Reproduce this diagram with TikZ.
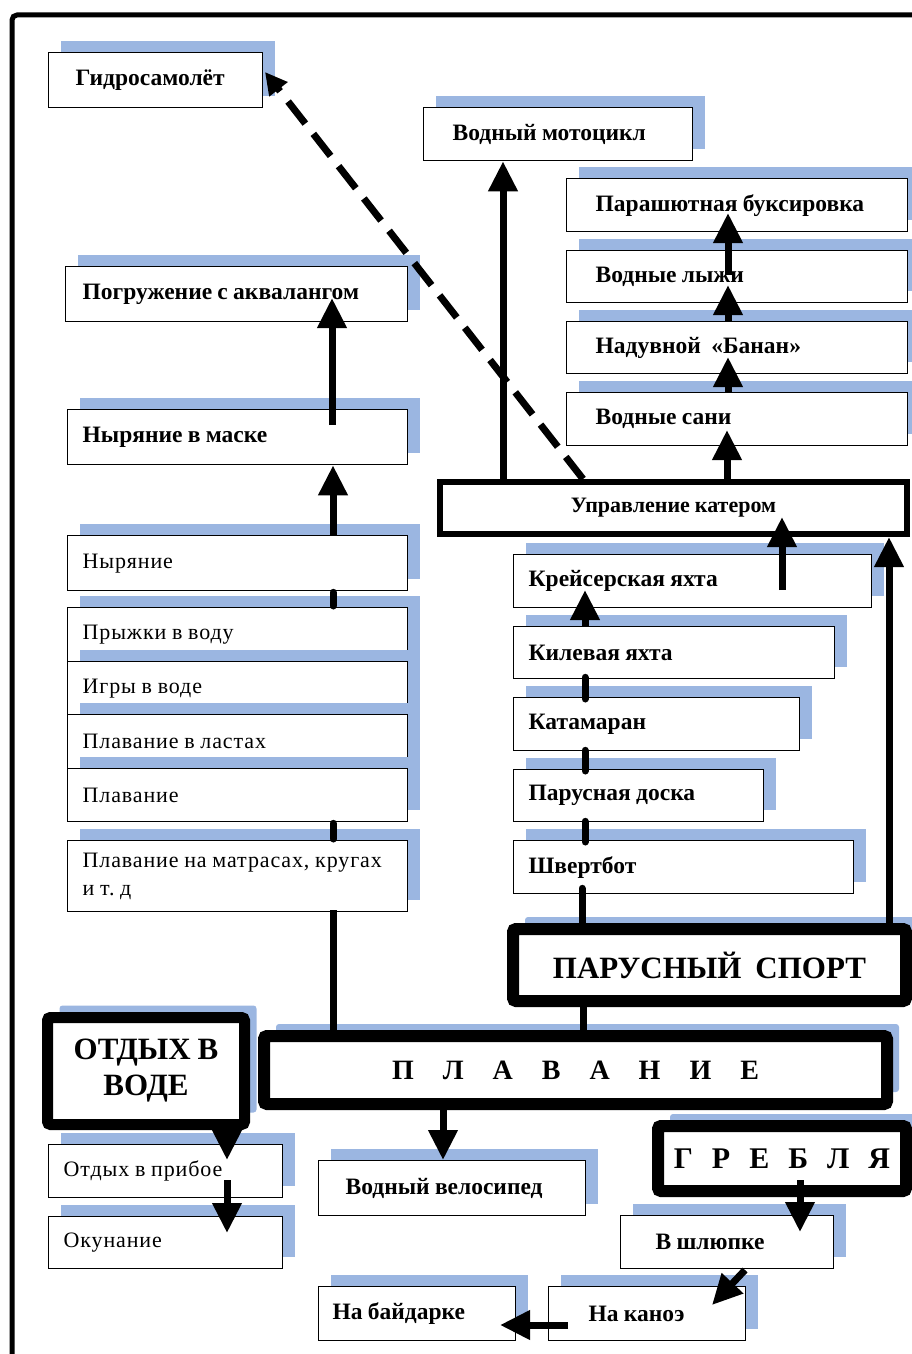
\documentclass[tikz,border=0pt]{standalone}
\usepackage{fontspec}
\setmainfont{Liberation Serif}[WordSpace=0.9]
\frenchspacing
\usetikzlibrary{arrows.meta,shadows}
\definecolor{shblue}{RGB}{155,182,225}
\newcommand\bsz{\bfseries\fontsize{23.5}{28}\selectfont}
\newcommand\rsz{\fontsize{22}{28}\selectfont\addfontfeatures{LetterSpace=4}}
\newcommand\gp[1]{\hspace{#1pt}}
% optional style, name, x1, y1, x2, y2, padding, text
\newcommand\tb[8][]{\node[sbox,#1,minimum width={#5pt-#3pt},minimum height={#6pt-#4pt},inner xsep=#7pt,text width={#5pt-#3pt-2*#7pt}] (#2) at (#3,#4) {#8};}
\begin{document}
\begin{tikzpicture}[x=1pt,y=-1pt,
  shd/.style={general shadow={fill=shblue, shadow xshift=12pt, shadow yshift=12pt}},
  sbox/.style={draw, line width=1.3pt, fill=white, shd, inner ysep=0pt, align=flush left, anchor=north west, font=\bsz},
  heavy/.style={draw, fill=white, rounded corners=3pt, shd, anchor=north west, align=center, inner sep=0pt},
  conn/.style={line width=7pt},
  arr/.style={line width=7pt, -{Triangle[length=30pt,width=28pt]}},
  bar/.style={line width=7pt, line cap=round}]
\useasboundingbox (0,0) rectangle (912,1354);
\clip (0,0) rectangle (912,1354);
% frame
\draw[line width=5pt, rounded corners=5pt] (12,1400) -- (12,15) -- (960,15);

% top boxes
\tb{gidro}{48}{52}{262}{107}{27}{Гидросамолёт}
\tb{moto}{423}{107}{692}{160}{29}{Водный мотоцикл}
\tb{parash}{566}{178}{907}{231}{29}{Парашютная буксировка}
\tb{lyzhi}{566}{250}{907}{302}{29}{Водные лыжи}
\tb{banan}{566}{321}{907}{373}{29}{Надувной\ \ «Банан»}
\tb{sani}{566}{392}{907}{445}{29}{Водные сани}
\tb{pogr}{65}{266}{407}{321}{17}{Погружение с аквалангом}
\tb{maska}{67}{409}{407}{464}{15}{Ныряние в маске}
\node[draw, line width=6pt, fill=white, anchor=north west, inner sep=0pt,
      minimum width=467pt, minimum height=52pt,
      font=\bfseries\fontsize{22}{26}\selectfont] (upr) at (437,479) {Управление катером};

% left column
\tb[font=\rsz]{nyr}{67}{535}{407}{590}{15}{Ныряние}
\tb[font=\rsz]{pryz}{67}{607}{407}{661}{15}{Прыжки в воду}
\tb[font=\rsz]{igry}{67}{661}{407}{714}{15}{Игры в воде}
\tb[font=\rsz]{last}{67}{714}{407}{768}{15}{Плавание в ластах}
\tb[font=\rsz]{plav}{67}{768}{407}{821}{15}{Плавание}
\tb[font=\rsz]{matr}{67}{840}{407}{911}{15}{\mbox{Плавание на матрасах, кругах}\\и т. д}

% sailing column
\tb{krei}{513}{554}{871}{607}{15}{Крейсерская яхта}
\tb{kil}{513}{626}{834}{678}{15}{Килевая яхта}
\tb{katam}{513}{697}{799}{750}{15}{Катамаран}
\tb{doska}{513}{769}{763}{821}{15}{Парусная доска}
\tb{shv}{513}{840}{853}{893}{15}{Швертбот}

% heavy boxes
\node[heavy, line width=12pt, minimum width=393pt, minimum height=72pt,
      font=\bfseries\fontsize{31}{36}\selectfont] (parus) at (507,923) {ПАРУСНЫЙ\ \ СПОРТ};
\node[heavy, line width=11pt, minimum width=197pt, minimum height=107pt,
      font=\bfseries\fontsize{31}{36}\selectfont] (otdyh) at (42,1012) {ОТДЫХ В\\ВОДЕ};
\node[heavy, line width=12pt, minimum width=623pt, minimum height=68pt,
      font=\bfseries\fontsize{28}{32}\selectfont] (plavanie) at (258,1030)
      {П\gp{29}Л\gp{29}А\gp{29}В\gp{29}А\gp{29}Н\gp{29}И\gp{29}Е};
\node[heavy, line width=12pt, minimum width=248pt, minimum height=65pt,
      font=\bfseries\fontsize{30}{34}\selectfont] (grebl) at (652,1120)
      {Г\gp{19}Р\gp{19}Е\gp{19}Б\gp{19}Л\gp{19}Я};

% bottom boxes
\tb[font=\rsz]{pribo}{48}{1144}{282}{1197}{15}{Отдых в прибое}
\tb[font=\rsz]{okun}{48}{1216}{282}{1268}{15}{Окунание}
\tb{velo}{318}{1160}{585}{1215}{27}{Водный велосипед}
\tb{shl}{620}{1215}{833}{1268}{35}{В шлюпке}
\tb{kan}{548}{1286}{745}{1340}{40}{На каноэ}
\tb{bai}{318}{1286}{515}{1340}{14}{На байдарке}

% ---------- connectors ----------
% left column
\draw[arr] ([shift={(266,0)}]nyr.north west) -- ([shift={(266,0)}]maska.south west);
\draw[arr] ([shift={(265,16)}]maska.north west) -- ([shift={(267,32)}]pogr.north west);
\draw[bar] ([shift={(266,1)}]nyr.south west) -- ([shift={(266,-1)}]pryz.north west);
\draw[bar] ([shift={(266,1)}]plav.south west) -- ([shift={(266,-1)}]matr.north west);
\coordinate (m1) at ([shift={(266,-2)}]matr.south west);
\draw[conn] (m1) -- (m1 |- plavanie.north);

% sailing
\coordinate (p1) at ([shift={(76,0)}]parus.south west);
\draw[conn] (p1) -- (p1 |- plavanie.north);
\draw[conn, line cap=round] ([shift={(75,2)}]parus.north west) -- ([shift={(69,-6)}]shv.south west);
\draw[bar] ([shift={(72,2)}]shv.north west) -- ([shift={(72,-1)}]doska.south west);
\draw[bar] ([shift={(72,2)}]doska.north west) -- ([shift={(72,-1)}]katam.south west);
\draw[bar] ([shift={(72,2)}]katam.north west) -- ([shift={(72,-2)}]kil.south west);
\draw[arr] ([shift={(72,0)}]kil.north west) -- ([shift={(72,36)}]krei.north west);
\draw[arr] ([shift={(269,36)}]krei.north west) -- ([shift={(345,38)}]upr.north west);
\draw[arr] ([shift={(382,2)}]parus.north west) -- ([shift={(452,0)}]upr.south west);

% motor boat
\draw[arr] ([shift={(290,2)}]upr.north west) -- ([shift={(161,38)}]sani.north west);
\draw[arr] ([shift={(162,0)}]sani.north west) -- ([shift={(162,36)}]banan.north west);
\draw[arr] ([shift={(162,0)}]banan.north west) -- ([shift={(162,35)}]lyzhi.north west);
\draw[arr] ([shift={(162,25)}]lyzhi.north west) -- ([shift={(162,35)}]parash.north west);
\draw[arr] ([shift={(66,2)}]upr.north west) -- ([shift={(80,0)}]moto.south west);
\draw[line width=7pt, dash pattern=on 28pt off 13pt, -{Triangle[length=22pt,width=22pt]}]
  ([shift={(146,0)}]upr.north west) -- ([shift={(217,20)}]gidro.north west);

% bottom
\draw[arr] ([shift={(185,-6)}]otdyh.south west) -- ([shift={(179,16)}]pribo.north west);
\draw[arr] ([shift={(179,36)}]pribo.north west) -- ([shift={(179,17)}]okun.north west);
\draw[arr] ([shift={(185,-2)}]plavanie.south west) -- ([shift={(125,0)}]velo.north west);
\draw[arr] ([shift={(148,60)}]grebl.north west) -- ([shift={(180,17)}]shl.north west);
\draw[arr] ([shift={(125,55)}]shl.north west) -- ([shift={(164,19)}]kan.north west);
\draw[arr] ([shift={(20,39)}]kan.north west) -- ([shift={(182,39)}]bai.north west);
\end{tikzpicture}
\end{document}
